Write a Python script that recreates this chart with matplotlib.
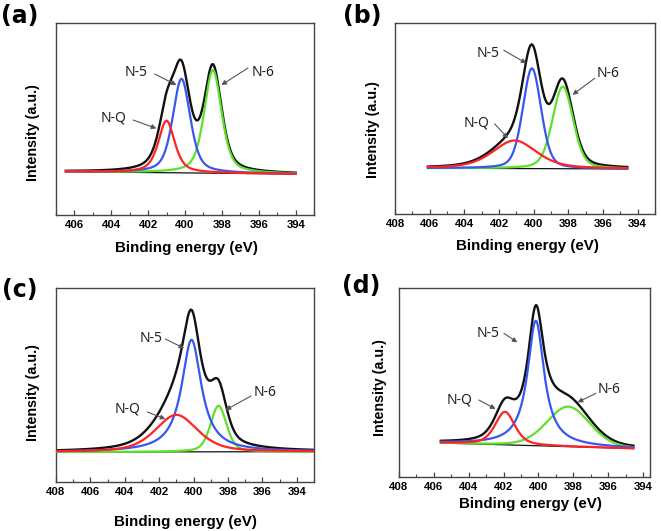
import numpy as np
import matplotlib
matplotlib.use("Agg")
import matplotlib.pyplot as plt

plt.rcParams['font.family'] = ['Noto Sans', 'DejaVu Sans']
BOLD = ['Liberation Sans', 'DejaVu Sans']

# peak parameters: N-Q, N-5, N-6
# centre (eV), height (a.u.), FWHM (eV), Lorentz fraction
centers_a = [401.0, 400.19, 398.49]
heights_a = [52, 94, 103]
fwhm_a = [1.05, 1.12, 1.12]
eta_a = [0.6, 0.5, 0.5]

centers_b = [401.1, 400.1, 398.32]
heights_b = [28, 100, 82]
fwhm_b = [3.0, 1.25, 1.4]
eta_b = [0.5, 0.3, 0.3]

centers_c = [401.0, 400.12, 398.55]
heights_c = [37, 112, 46]
fwhm_c = [2.9, 1.4, 1.1]
eta_c = [0.5, 1.0, 0.4]

centers_d = [401.92, 400.15, 398.29]
heights_d = [33, 125, 40]
fwhm_d = [1.35, 1.15, 2.9]
eta_d = [0.5, 1.0, 0.2]

# measured span of each spectrum and its linear background (start, end)
span_a = (406.45, 394.0)
span_b = (406.1, 394.6)
span_c = (408.0, 393.0)
span_d = (405.6, 394.55)
base_a = (0.3, -2.0)
base_b = (0.2, -0.5)
base_c = (0.0, 0.3)
base_d = (1.0, -4.5)

xlims = [(407, 393), (408, 393), (408, 393), (408, 393.6)]
ylims = [(-43, 149), (-45.5, 145.2), (-30, 164), (-33.3, 156)]
names = ["N-Q", "N-5", "N-6"]
colors = ["#ff2424", "#3a56f0", "#5ee02c"]

# label text position, arrow tail, arrow head (data coords), per panel
notes = [
    {"N-5": ((402.63, 99), (401.64, 98), (400.46, 87)),
     "N-6": ((395.78, 100), (396.59, 104), (398.03, 87)),
     "N-Q": ((403.89, 54), (402.81, 52), (401.55, 43.6))},
    {"N-5": ((402.63, 115), (401.73, 118), (400.42, 105)),
     "N-6": ((395.7, 94.5), (396.48, 90), (397.76, 73.5)),
     "N-Q": ((403.3, 45.8), (402.25, 44.5), (401.48, 30))},
    {"N-5": ((402.5, 114), (401.64, 113), (400.55, 103.7)),
     "N-6": ((395.84, 59), (396.66, 56), (398.14, 42)),
     "N-Q": ((403.82, 43), (402.69, 40), (401.64, 33))},
    {"N-5": ((402.88, 110.7), (401.98, 110.7), (401.21, 101.7)),
     "N-6": ((395.97, 54.7), (396.7, 50.7), (397.75, 41.7)),
     "N-Q": ((404.5, 44), (403.42, 44), (402.46, 35))},
]


def pvoigt(x, c, h, w, eta):
    d = (x - c) / w
    g = np.exp(-4 * np.log(2) * d ** 2)
    l = 1 / (1 + 4 * d ** 2)
    return h * (eta * l + (1 - eta) * g)


fig = plt.figure(figsize=(6.61, 5.31), dpi=100)
W, H = 661, 531
# axes boxes in pixels: left, top, right, bottom
boxes = [(55.7, 23, 314.3, 215), (395, 23, 655, 214),
         (56, 288, 314, 482), (399, 288, 650, 477.3)]

panels = [
    (centers_a, heights_a, fwhm_a, eta_a, span_a, base_a),
    (centers_b, heights_b, fwhm_b, eta_b, span_b, base_b),
    (centers_c, heights_c, fwhm_c, eta_c, span_c, base_c),
    (centers_d, heights_d, fwhm_d, eta_d, span_d, base_d),
]

for i, (cen, hei, fw, et, span, base) in enumerate(panels):
    l, t, r, b = boxes[i]
    ax = fig.add_axes([l / W, 1 - b / H, (r - l) / W, (b - t) / H])
    x = np.linspace(span[0], span[1], 600)
    bg = np.interp(x, [span[1], span[0]], [base[1], base[0]])
    comps = [pvoigt(x, cen[k], hei[k], fw[k], et[k]) for k in range(3)]
    total = bg + sum(comps)

    ax.plot(x, total, color="#111111", lw=1.7, zorder=2)
    ax.plot(x, bg, color="#111111", lw=0.9, zorder=3)
    for k in [2, 1, 0]:
        ax.plot(x, bg + comps[k], color=colors[k], lw=1.6, zorder=4)

    for name in names:
        txt, tail, head = notes[i][name]
        ax.text(txt[0], txt[1], name, fontsize=10, ha="center", va="center",
                color="#222222")
        ax.annotate("", xy=head, xytext=tail,
                    arrowprops=dict(arrowstyle="-|>", color="#555555",
                                    lw=0.8, mutation_scale=7,
                                    shrinkA=0, shrinkB=0))

    ax.set_xticks(np.arange(394, 409, 2))
    ax.set_xticks(np.arange(393, 409, 1), minor=True)
    ax.set_xlim(*xlims[i])
    ax.set_ylim(*ylims[i])
    ax.tick_params(axis="x", which="major", direction="in", length=3.5,
                   width=0.9, color="#444444", pad=3.5)
    ax.tick_params(axis="x", which="minor", direction="in", length=2,
                   width=0.8, color="#444444")
    for lab in ax.get_xticklabels():
        lab.set_family(BOLD)
        lab.set_fontweight("bold")
        lab.set_fontsize(8.2)
    ax.set_yticks([])
    for sp in ax.spines.values():
        sp.set_color("#444444")
        sp.set_linewidth(1.0)

# axis titles and panel letters placed in pixel terms
xlab_pos = [(186.5, 248), (527, 246), (185, 522), (530, 504)]
ylab_pos = [(33, 133), (373, 130), (33, 393), (380, 388)]
letter_pos = [(20, 16), (362, 16), (20, 290), (361, 286)]
letters = ["(a)", "(b)", "(c)", "(d)"]
for i in range(4):
    fig.text(xlab_pos[i][0] / W, 1 - xlab_pos[i][1] / H, "Binding energy (eV)",
             ha="center", va="center", fontsize=10.9, fontweight="bold",
             family=BOLD)
    fig.text(ylab_pos[i][0] / W, 1 - ylab_pos[i][1] / H, "Intensity (a.u.)",
             ha="center", va="center", rotation=90, fontsize=10.3,
             fontweight="bold", family=BOLD)
    fig.text(letter_pos[i][0] / W, 1 - letter_pos[i][1] / H, letters[i],
             ha="center", va="center", fontsize=17, fontweight="bold",
             family=['DejaVu Sans'])

fig.savefig("out.png", dpi=100)
